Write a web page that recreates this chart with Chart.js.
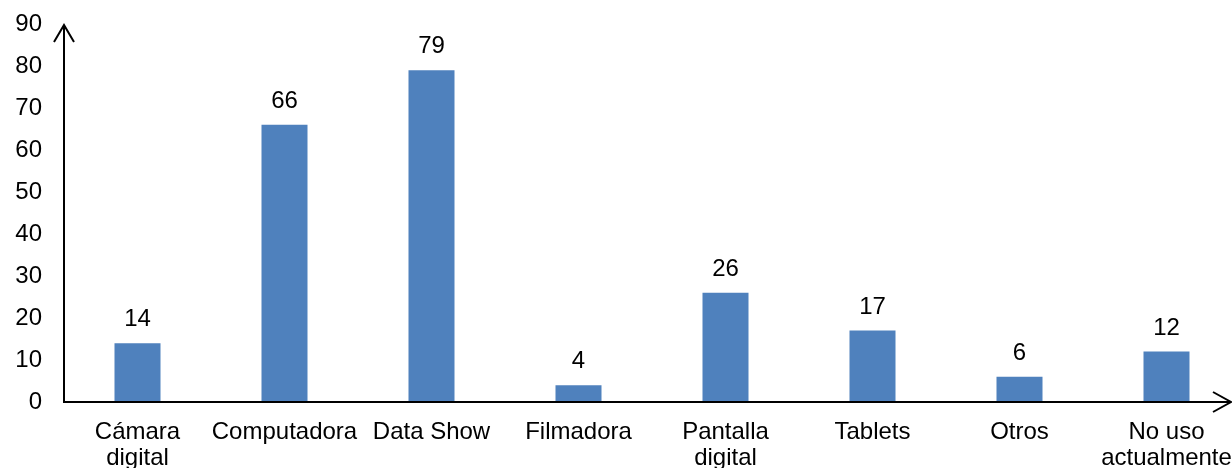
<!DOCTYPE html>
<html>
<head>
<meta charset="utf-8">
<script src="https://cdn.jsdelivr.net/npm/chart.js@4.4.1/dist/chart.umd.min.js"></script>
<style>
  html, body { margin: 0; padding: 0; background: #fff; overflow: hidden; }
  #clip { width: 1232px; height: 468px; overflow: hidden; position: relative; }
  #wrap { width: 1240px; height: 468px; position: absolute; left: 0; top: 0; }
</style>
</head>
<body>
<div id="clip"><div id="wrap"><canvas id="c" width="1240" height="468"></canvas></div></div>
<script>
const categories = [
  ['Cámara', 'digital'],
  'Computadora',
  'Data Show',
  'Filmadora',
  ['Pantalla', 'digital'],
  'Tablets',
  'Otros',
  ['No uso', 'actualmente']
];
const values = [14, 66, 79, 4, 26, 17, 6, 12];
const yMin = 0, yMax = 90, yStep = 10;

const FONT = '"Liberation Sans", Arial, sans-serif';
const FONT_SIZE = 24;

const axesArrows = {
  id: 'axesArrows',
  afterDraw(chart) {
    const ctx = chart.ctx;
    const y = chart.scales.y;
    const x0 = chart.chartArea.left;
    const y0 = y.getPixelForValue(yMin);
    const yTop = y.getPixelForValue(yMax);
    const xEnd = chart.chartArea.right - 9;
    ctx.save();
    ctx.strokeStyle = '#000';
    ctx.lineWidth = 2;
    ctx.beginPath();
    ctx.moveTo(x0, y0 + 1);
    ctx.lineTo(x0, yTop + 1);
    ctx.moveTo(x0 - 10, yTop + 18);
    ctx.lineTo(x0, yTop + 1);
    ctx.lineTo(x0 + 10, yTop + 18);
    ctx.moveTo(x0 - 1, y0);
    ctx.lineTo(xEnd, y0);
    ctx.moveTo(xEnd - 18, y0 - 10);
    ctx.lineTo(xEnd, y0);
    ctx.lineTo(xEnd - 18, y0 + 10);
    ctx.stroke();
    ctx.restore();
  }
};

const valueLabels = {
  id: 'valueLabels',
  afterDatasetsDraw(chart) {
    const ctx = chart.ctx;
    const meta = chart.getDatasetMeta(0);
    ctx.save();
    ctx.fillStyle = '#000';
    ctx.font = FONT_SIZE + 'px ' + FONT;
    ctx.textAlign = 'center';
    ctx.textBaseline = 'alphabetic';
    meta.data.forEach((bar, i) => {
      ctx.fillText(String(values[i]), bar.x, bar.y - 17);
    });
    ctx.restore();
  }
};

new Chart(document.getElementById('c'), {
  type: 'bar',
  data: {
    labels: categories,
    datasets: [{
      data: values,
      backgroundColor: '#4F81BD',
      borderWidth: 0,
      categoryPercentage: 1,
      barPercentage: 0.313
    }]
  },
  options: {
    responsive: false,
    animation: false,
    devicePixelRatio: 1,
    layout: { padding: { top: 24, left: 0, right: 0, bottom: 0 } },
    plugins: { legend: { display: false }, tooltip: { enabled: false } },
    scales: {
      x: {
        grid: { display: false, drawTicks: false },
        border: { display: false },
        ticks: {
          color: '#000',
          font: { family: FONT, size: FONT_SIZE, lineHeight: 1.1 },
          padding: 17,
          maxRotation: 0,
          autoSkip: false
        },
        afterFit(scale) {
          scale.height = 66;
          scale.paddingLeft = 0; scale.paddingRight = 0;
        }
      },
      y: {
        min: yMin, max: yMax,
        grid: { display: false, drawTicks: false },
        border: { display: false },
        ticks: {
          stepSize: yStep,
          color: '#000',
          font: { family: FONT, size: FONT_SIZE },
          padding: 22
        },
        afterFit(scale) {
          scale.width = 64;
          scale.paddingTop = 0; scale.paddingBottom = 0;
        }
      }
    }
  },
  plugins: [axesArrows, valueLabels]
});
</script>
</body>
</html>
